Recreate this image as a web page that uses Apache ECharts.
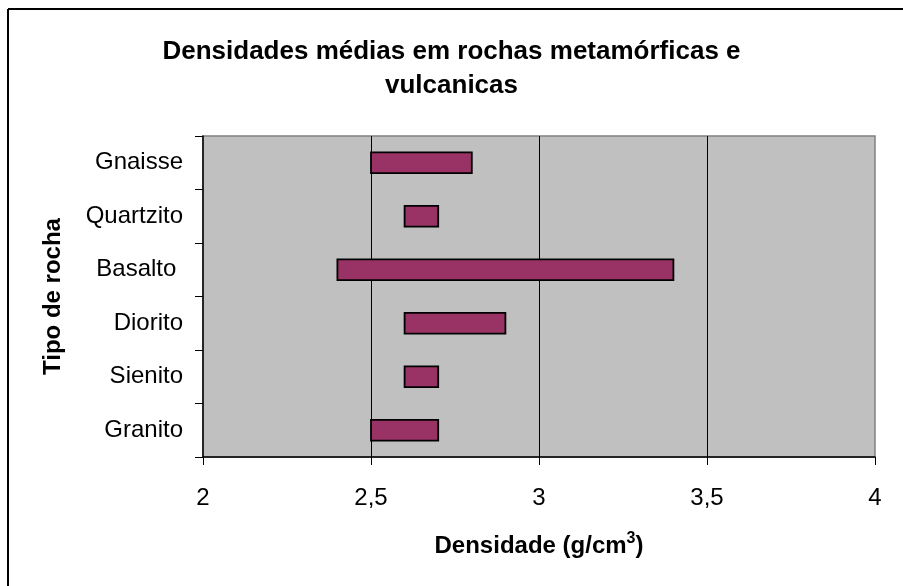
<!DOCTYPE html>
<html>
<head>
<meta charset="utf-8">
<script src="https://cdn.jsdelivr.net/npm/echarts@6/dist/echarts.min.js"></script>
<style>
html,body{margin:0;padding:0;background:#fff;}
#chart{width:903px;height:586px;}
</style>
</head>
<body>
<div id="chart"></div>
<script>
const categories = ['Granito', 'Sienito', 'Diorito', 'Basalto ', 'Quartzito', 'Gnaisse'];
const lowValues  = [2.5, 2.6, 2.6, 2.4, 2.6, 2.5];
const highValues = [2.7, 2.7, 2.9, 3.4, 2.7, 2.8];
const xTicks = [2, 2.5, 3, 3.5, 4];

const FONT = "Arial, 'Liberation Sans', sans-serif";
const chart = echarts.init(document.getElementById('chart'), null, {renderer: 'canvas'});

const rangeData = categories.map((c, i) => [i, lowValues[i], highValues[i]]);

chart.setOption({
  animation: false,
  backgroundColor: '#ffffff',
  title: {
    text: 'Densidades médias em rochas metamórficas e\nvulcanicas',
    left: 'center',
    top: 35,
    padding: 0,
    textStyle: {fontFamily: FONT, fontSize: 26, fontWeight: 'bold', color: '#000', lineHeight: 34}
  },
  graphic: [
    {type: 'line', shape: {x1: 8, y1: 9, x2: 903, y2: 9}, style: {stroke: '#000', lineWidth: 2}},
    {type: 'line', shape: {x1: 8, y1: 9, x2: 8, y2: 586}, style: {stroke: '#000', lineWidth: 2}}
  ],
  grid: {
    left: 203, top: 136, width: 672, height: 321,
    show: true, backgroundColor: '#C0C0C0', borderColor: '#808080', borderWidth: 1.5,
    containLabel: false
  },
  xAxis: {
    type: 'value',
    min: xTicks[0], max: xTicks[xTicks.length - 1], interval: 0.5,
    axisLine: {show: true, lineStyle: {color: '#000', width: 1.5}},
    axisTick: {show: true, length: 8, lineStyle: {color: '#000', width: 1}},
    axisLabel: {
      margin: 29, color: '#000', fontFamily: FONT, fontSize: 24,
      formatter: v => String(v).replace('.', ',')
    },
    splitLine: {show: true, showMinLine: false, showMaxLine: false, lineStyle: {color: '#000', width: 1}},
    name: 'Densidade (g/cm{sup|3})',
    nameLocation: 'middle',
    nameGap: 74,
    nameTextStyle: {
      fontFamily: FONT, fontSize: 24, fontWeight: 'bold', color: '#000', lineHeight: 30,
      rich: {
        sup: {fontFamily: FONT, fontSize: 16, fontWeight: 'bold', color: '#000', lineHeight: 16, verticalAlign: 'top'}
      }
    }
  },
  yAxis: {
    type: 'category',
    data: categories,
    boundaryGap: true,
    axisLine: {show: true, lineStyle: {color: '#000', width: 1.5}},
    axisTick: {show: true, length: 8, alignWithLabel: false, lineStyle: {color: '#000', width: 1}},
    axisLabel: {margin: 20, color: '#000', fontFamily: FONT, fontSize: 24},
    splitLine: {show: false},
    name: 'Tipo de rocha',
    nameLocation: 'middle',
    nameGap: 138,
    nameTextStyle: {fontFamily: FONT, fontSize: 24, fontWeight: 'bold', color: '#000'}
  },
  series: [{
    type: 'custom',
    encode: {y: 0, x: [1, 2]},
    data: rangeData,
    renderItem: function (params, api) {
      const cat = api.value(0);
      const p1 = api.coord([api.value(1), cat]);
      const p2 = api.coord([api.value(2), cat]);
      const h = api.size([0, 1])[1] * 0.39;
      return {
        type: 'rect',
        shape: {x: p1[0], y: p1[1] - h / 2, width: p2[0] - p1[0], height: h},
        style: {fill: '#993366', stroke: '#000', lineWidth: 1.8}
      };
    }
  }]
});
</script>
</body>
</html>
